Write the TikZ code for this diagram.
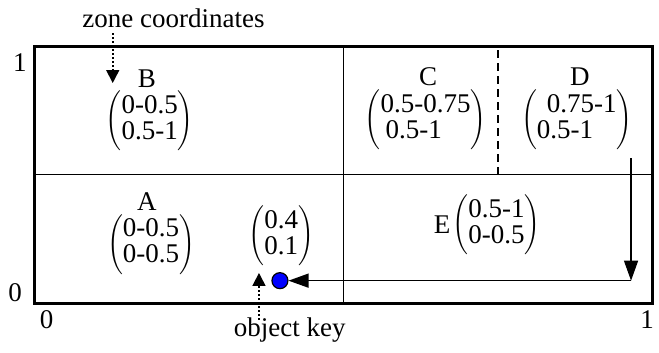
\documentclass[tikz,border=0pt]{standalone}
\usepackage{fontspec}
\setmainfont{Liberation Serif}
\usetikzlibrary{arrows.meta}
\tikzset{
  big arrow/.style={-{Triangle[length=10pt,width=7pt]}, line width=0.7pt},
  hint arrow/.style={-{Triangle[length=6.5pt,width=6.5pt]}, line width=0.8pt,
    dash pattern=on 1pt off 1pt},
  grid line/.style={line width=0.9pt},
  keydot/.style={circle, draw, fill=blue, line width=0.6pt, minimum size=8pt, inner sep=0pt},
}
\newcommand{\zc}[2]{$\left(\vcenter{\hbox{\begin{tabular}{@{}l@{}}#1\\#2\end{tabular}}}%
  \vcenter{\hbox{\rule{0pt}{30pt}}}\right)$}
\begin{document}
\begin{tikzpicture}[x=308.5pt, y=128.5pt, font=\fontsize{13.5}{13}\selectfont]
    \useasboundingbox (-0.0567,-0.1907) rectangle (1.0113,1.179);
    \coordinate (O) at (0,0);   \coordinate (T) at (1,1);
    \coordinate (ML) at (0,0.5); \coordinate (MR) at (1,0.5);
    \coordinate (VB) at (0.5,0); \coordinate (VT) at (0.5,1);
    \coordinate (SB) at (0.75,0.5); \coordinate (ST) at (0.75,1);
    \draw[line width=1.5pt] (O) rectangle (T);
    \draw[grid line] (ML)--(MR); \draw[grid line] (VB)--(VT);
    \draw[grid line, dash pattern=on 4pt off 2.5pt] (SB)--(ST);
    % axis labels
    \node (y1) at (-0.0243,0.934) {1}; \node (y0) at (-0.032,0.039) {0};
    \node (x0) at (0.019,-0.066) {0};  \node (x1) at (0.992,-0.066) {1};
    % zones
    \node (B) at (0.1815,0.872) {B};
    \node (zB) at (0.186,0.708) {\zc{0-0.5}{0.5-1}};
    \node (C) at (0.637,0.879) {C};
    \node (zC) at (0.633,0.712) {\zc{0.5-0.75}{\hspace{2.5pt}0.5-1}};
    \node (D) at (0.883,0.879) {D};
    \node (zD) at (0.878,0.712) {\zc{\hspace{5pt}0.75-1}{0.5-1}};
    \node (A) at (0.1815,0.393) {A};
    \node (zA) at (0.188,0.228) {\zc{0-0.5}{0-0.5}};
    \node (E) at (0.66,0.3035) {E};
    \node (zE) at (0.748,0.3035) {\zc{0.5-1}{0-0.5}};
    % object key
    \node (zK) at (0.399,0.261) {\zc{0.4}{0.1}};
    \node[keydot] (key) at (0.397,0.087) {};
    \coordinate (dtop) at (0.966,0.564); \coordinate (corner) at (0.966,0.087);
    \draw[big arrow] (dtop)--(corner);
    \draw[big arrow] (corner)--(key);
    % hints
    \node (zonetxt) at (0.2245,1.109) {zone coordinates};
    \coordinate (zs) at (0.126,1.05); \coordinate (zt) at (0.126,0.856);
    \draw[hint arrow] (zs)--(zt);
    \node (keytxt) at (0.413,-0.105) {object key};
    \coordinate (ks) at (0.363,-0.066); \coordinate (kt) at (0.363,0.117);
    \draw[hint arrow] (ks)--(kt);
  \end{tikzpicture}
\end{document}
